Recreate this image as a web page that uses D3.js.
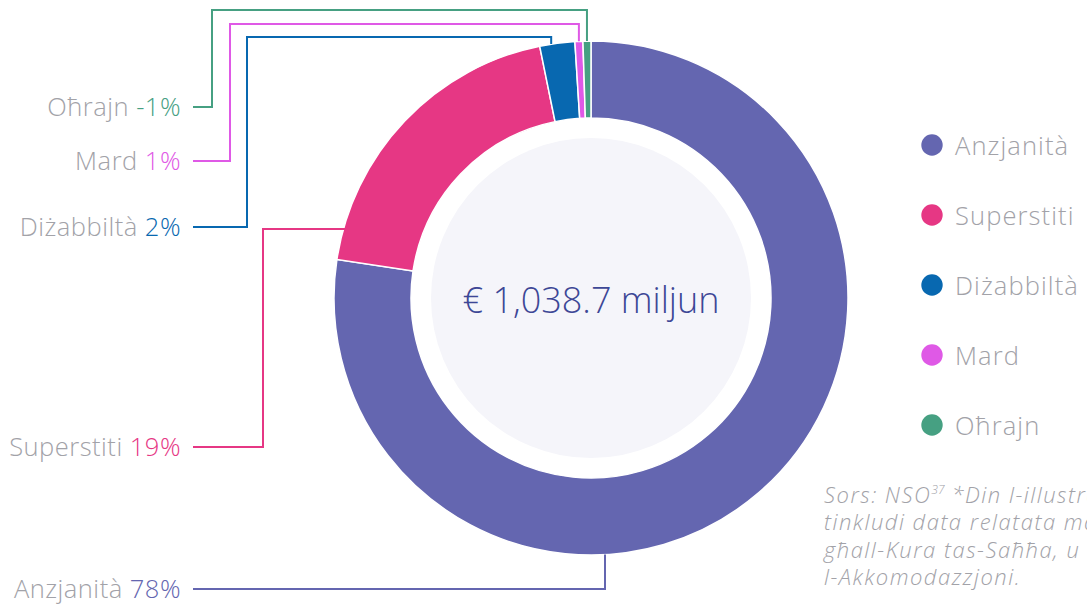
<!DOCTYPE html>
<html>
<head>
<meta charset="utf-8">
<script src="https://cdn.jsdelivr.net/npm/d3@7"></script>
<style>
  body { margin: 0; background: #fff; }
  svg { display: block; font-family: "Open Sans", Lato, sans-serif; font-weight: 300; }
</style>
</head>
<body>
<div id="chart"></div>
<script>
// data
const categories = ["Anzjanità", "Superstiti", "Diżabbiltà", "Mard", "Oħrajn"];
const shares = [77.4, 19.4, 2.2, 0.5, 0.5];          // slice sizes (%)
const pctLabels = ["78%", "19%", "2%", "1%", "-1%"];
const colors = ["#6466b0", "#e63784", "#0868b0", "#df59e6", "#46a082"];
const total = "€ 1,038.7 miljun";
const sourceLines = [
  "Sors: NSO",
  "tinkludi data relatata mal-Benefiċċji",
  "għall-Kura tas-Saħħa, u",
  "l-Akkomodazzjoni."
];

const W = 1087, H = 609;
const cx = 591, cy = 298, R = 257, r = 180;
const grey = "#a2a2a8";

const svg = d3.select("#chart").append("svg")
  .attr("width", W).attr("height", H);

const g = svg.append("g").attr("transform", `translate(${cx},${cy})`);

const pie = d3.pie().sort(null).value(d => d.v);
const arcs = pie(categories.map((c, i) => ({ c, v: shares[i], i })));
const arc = d3.arc().innerRadius(r).outerRadius(R);

g.append("circle").attr("r", 160).attr("fill", "#f5f5fa");

g.selectAll("path.slice")
  .data(arcs)
  .enter().append("path")
  .attr("class", "slice")
  .attr("d", arc)
  .attr("fill", d => colors[d.data.i])
  .attr("stroke", "#fff")
  .attr("stroke-width", 1.5);

g.append("text")
  .attr("text-anchor", "middle")
  .attr("y", 15)
  .attr("font-size", 36)
  .attr("fill", "#3d4796")
  .text(total);

// leader lines: label y, elbow x, top y (for top slices)
const labelY = [589, 447, 227, 161, 107];
const elbowX = [null, 263, 247, 230, 212];
const topY = [null, 229, 37, 24, 10];
const lineStart = 193;

function ringPoint(a, rad) {
  return [cx + rad * Math.sin(a), cy - rad * Math.cos(a)];
}

arcs.forEach((d, i) => {
  const mid = (d.startAngle + d.endAngle) / 2;
  let pts;
  if (i === 0) {
    // bottom of the ring
    const x = cx + 14;
    const yRing = cy + Math.sqrt(R * R - 14 * 14);
    pts = [[lineStart, labelY[i]], [x, labelY[i]], [x, yRing]];
  } else if (i === 1) {
    const yy = topY[i];
    const xRing = cx - Math.sqrt(R * R - (cy - yy) * (cy - yy)) + 2;
    pts = [[lineStart, labelY[i]], [elbowX[i], labelY[i]], [elbowX[i], yy], [xRing, yy]];
  } else {
    const p = ringPoint(mid, R);
    const px = i === 2 ? p[0] - 6 : p[0];
    const py = cy - Math.sqrt(R * R - (px - cx) * (px - cx));
    pts = [[lineStart, labelY[i]], [elbowX[i], labelY[i]], [elbowX[i], topY[i]], [px, topY[i]], [px, py]];
  }
  svg.append("path")
    .attr("d", d3.line()(pts))
    .attr("fill", "none")
    .attr("stroke", colors[i])
    .attr("stroke-width", 2);

  const t = svg.append("text")
    .attr("x", 181)
    .attr("y", labelY[i] + 9)
    .attr("text-anchor", "end")
    .attr("font-size", 25.5)
    .attr("letter-spacing", 0.5);
  t.append("tspan").attr("fill", grey).text(categories[i] + " ");
  t.append("tspan").attr("fill", colors[i]).text(pctLabels[i]);
});

// legend
const legend = svg.append("g").attr("transform", "translate(932,145)");
categories.forEach((c, i) => {
  const row = legend.append("g").attr("transform", `translate(0,${i * 70})`);
  row.append("circle").attr("r", 10.7).attr("fill", colors[i]);
  row.append("text").attr("x", 23).attr("y", 10)
    .attr("font-size", 25.5).attr("letter-spacing", 1.1)
    .attr("fill", grey).text(c);
});

// source note, one text per line
sourceLines.forEach((line, i) => {
  const t = svg.append("text")
    .attr("x", 824).attr("y", 503 + i * 27.3)
    .attr("font-size", 22)
    .attr("letter-spacing", 1.5)
    .attr("font-style", "italic")
    .attr("fill", grey)
    .text(line);
  if (i === 0) {
    t.append("tspan").attr("font-size", 12).attr("letter-spacing", 0).attr("dy", -9).text("37");
    t.append("tspan").attr("dy", 9).text("  *Din l-illustrazzjoni ma");
  }
});
</script>
</body>
</html>
